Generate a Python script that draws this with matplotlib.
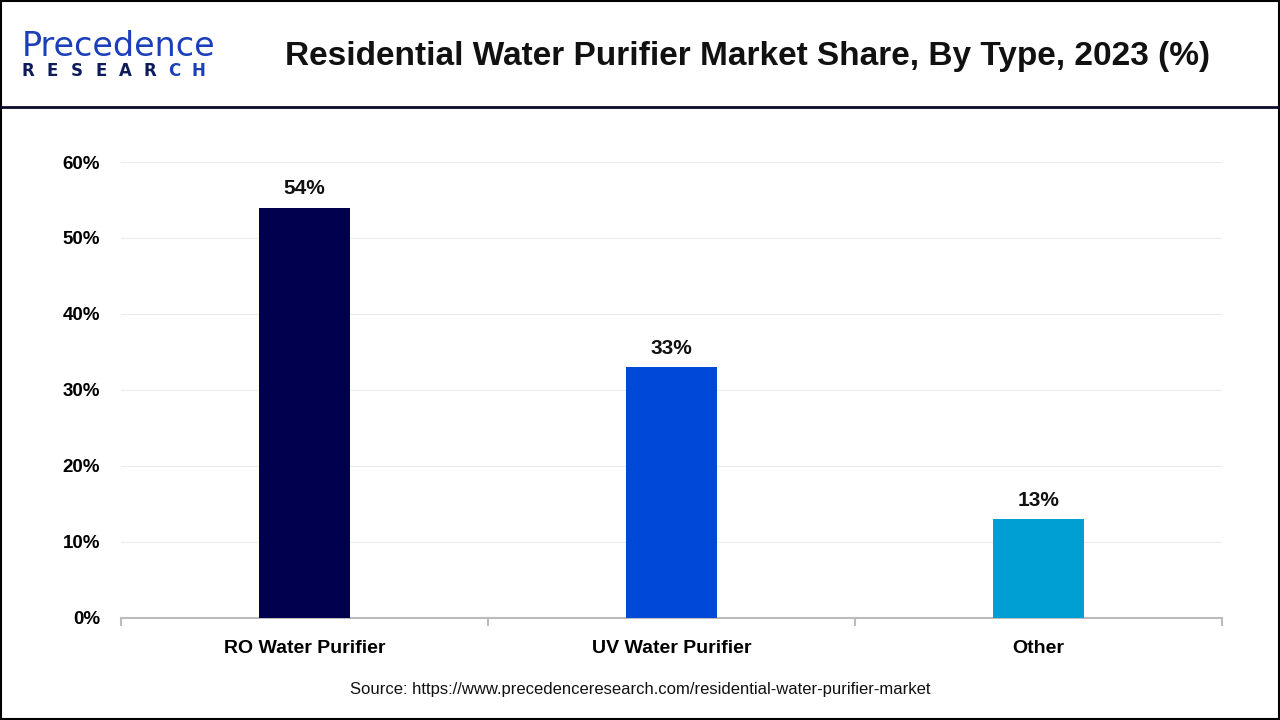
import matplotlib
matplotlib.use("Agg")
import matplotlib.pyplot as plt
from matplotlib.lines import Line2D
from matplotlib.patches import Rectangle

categories = ["RO Water Purifier", "UV Water Purifier", "Other"]
shares = [54, 33, 13]
bar_colors = ["#00004f", "#0048d8", "#009fd3"]
yticks = [0, 10, 20, 30, 40, 50, 60]

plt.rcParams['font.family'] = ['Liberation Sans', 'DejaVu Sans']

fig = plt.figure(figsize=(12.8, 7.2), dpi=100)
ax = fig.add_axes([0.0945, 0.1417, 0.8602, 0.6333])

x = list(range(len(categories)))
ax.bar(x, shares, width=0.25, color=bar_colors, zorder=3)
for xi, v in zip(x, shares):
    ax.text(xi, v + 1.2, f"{v}%", ha="center", va="bottom",
            fontsize=15, fontweight="bold", color="#111111")

ax.set_xlim(-0.5, len(categories) - 0.5)
ax.set_ylim(0, 60)
ax.set_yticks(yticks)
ax.set_yticklabels([f"{t}%" for t in yticks], fontsize=13.5, fontweight="bold")
ax.set_xticks(x)
ax.set_xticklabels(categories, fontsize=14, fontweight="bold")
ax.tick_params(axis="x", length=0, pad=16)
ax.tick_params(axis="y", length=0, pad=15)
# category separators on the baseline
for b in [-0.5, 0.5, 1.5, 2.5]:
    ax.plot([b, b], [0, -0.9], color="#bbbbbb", lw=1.5, clip_on=False, zorder=4)
ax.grid(axis="y", color="#ececec", lw=0.8, zorder=0)
for s in ["top", "right", "left"]:
    ax.spines[s].set_visible(False)
ax.spines["bottom"].set_color("#bbbbbb")
ax.spines["bottom"].set_linewidth(1.5)

# title and header
fig.text(0.584, 0.922, "Residential Water Purifier Market Share, By Type, 2023 (%)",
         ha="center", va="center", fontsize=24, fontweight="bold", color="#111111")
fig.add_artist(Line2D([0, 1], [0.851, 0.851], color="#0a0a2a", lw=2))

# logo
fig.text(0.017, 0.935, "Precedence", ha="left", va="center", fontsize=24,
         color="#1a3fb8", family=["DejaVu Sans"])
for i, ch in enumerate("RESEARCH"):
    fig.text(0.022 + i * 0.019, 0.901, ch, ha="center", va="center", fontsize=12,
             fontweight="bold", color="#0d1b5a" if i < 6 else "#1a3fb8",
             family=["DejaVu Sans"])

# source
fig.text(0.5, 0.043, "Source: https://www.precedenceresearch.com/residential-water-purifier-market",
         ha="center", va="center", fontsize=12, color="#111111")

fig.add_artist(Rectangle((0.001, 0.001), 0.998, 0.997, fill=False,
                         edgecolor="black", lw=1.5, transform=fig.transFigure))

fig.savefig("out.png", dpi=100)
